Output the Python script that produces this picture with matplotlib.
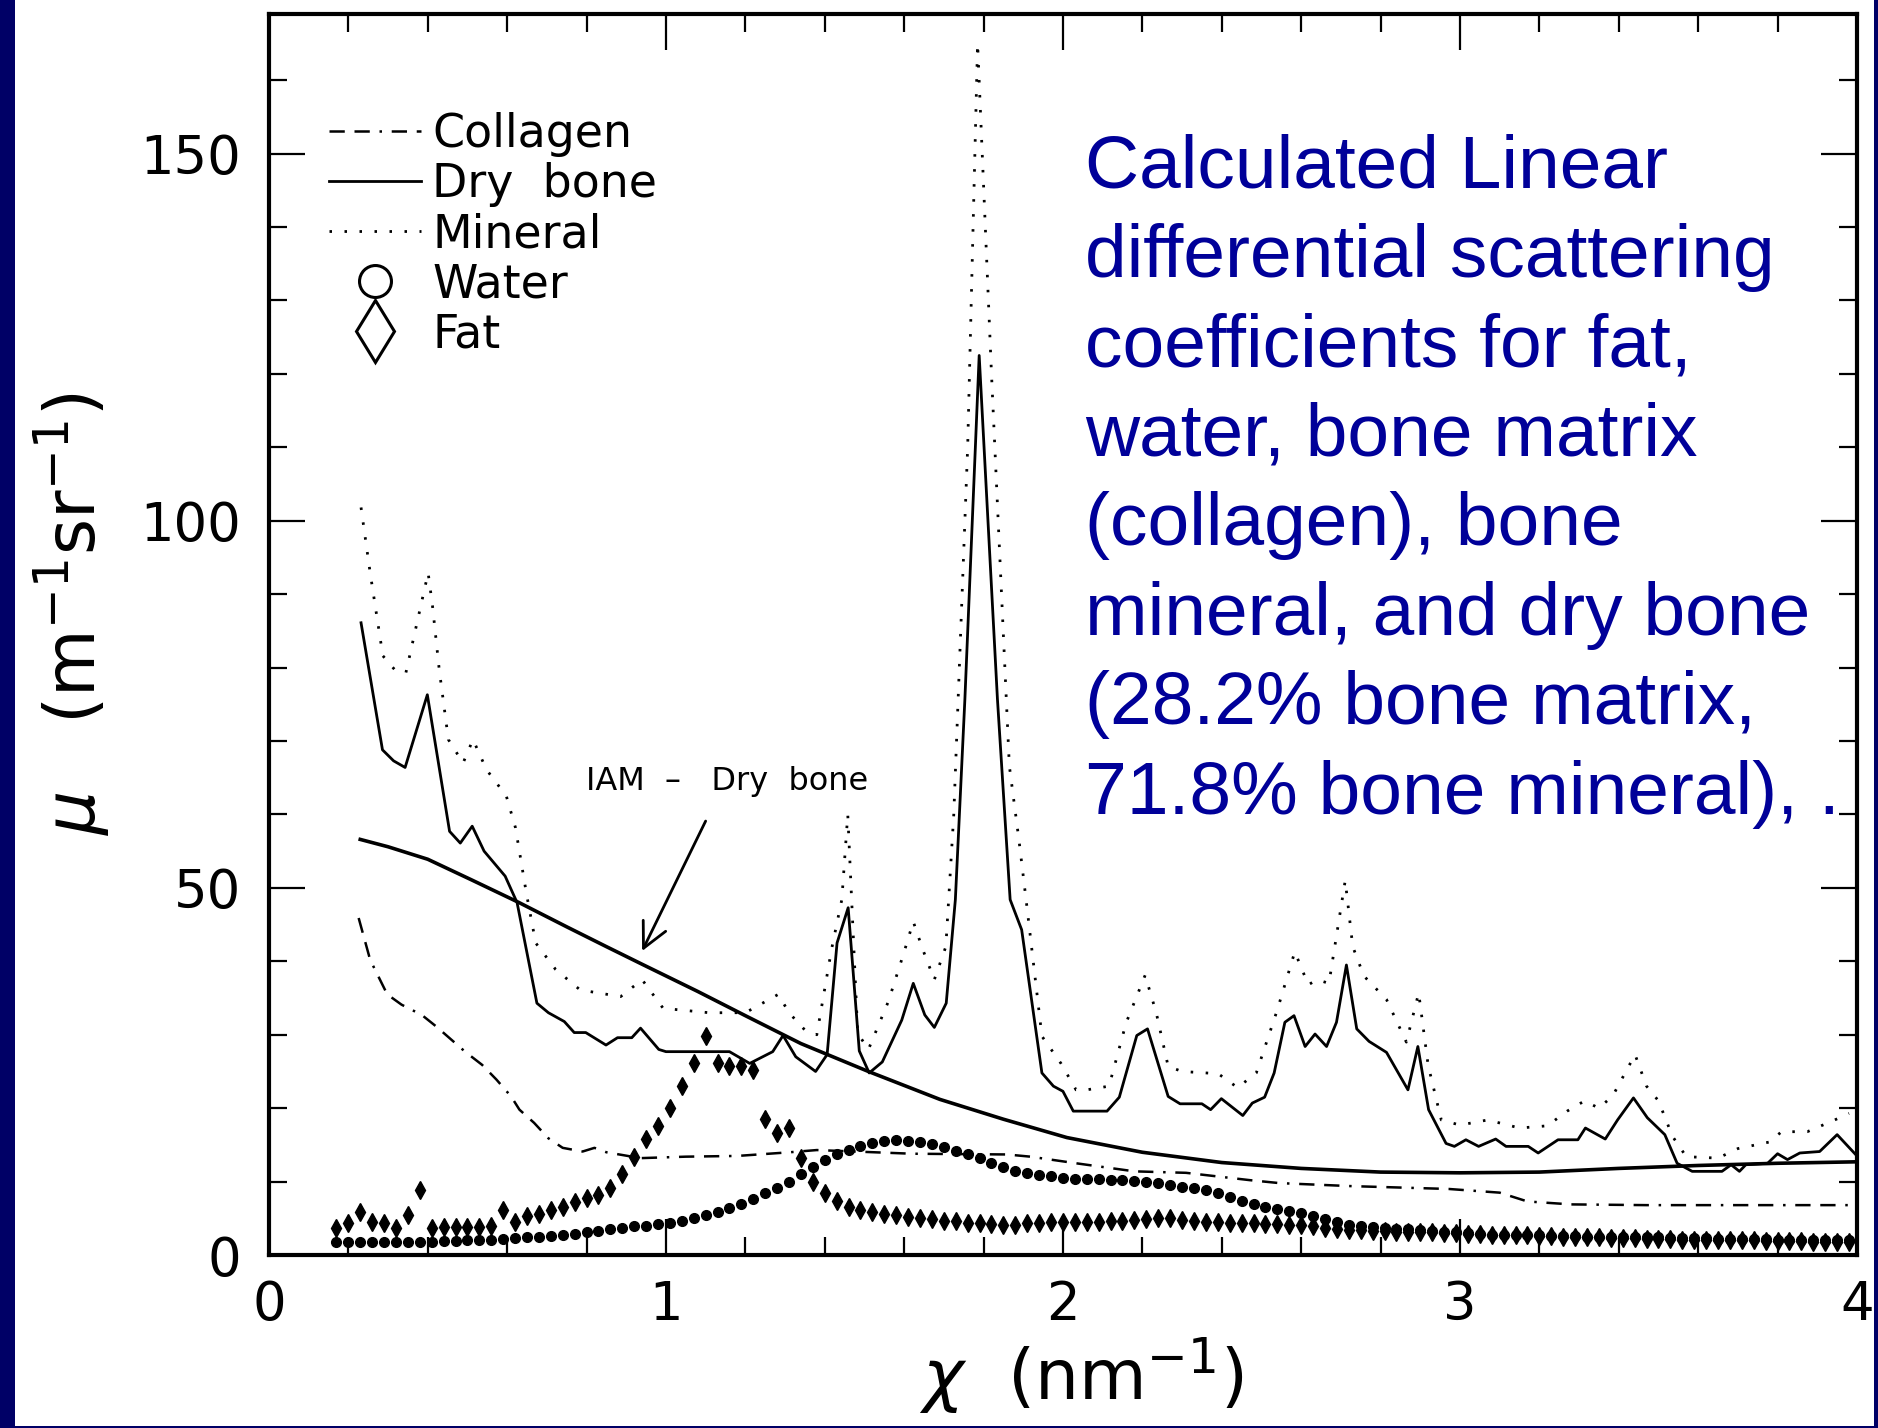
import matplotlib
matplotlib.use('Agg')
import matplotlib.pyplot as plt
from matplotlib.lines import Line2D
from matplotlib.patches import Rectangle
from matplotlib.ticker import MultipleLocator

plt.rcParams['font.family'] = 'DejaVu Sans'
plt.rcParams['mathtext.fontset'] = 'dejavusans'
plt.rcParams['lines.scale_dashes'] = False

# dry bone (solid)
bone_x = [0.232, 0.286, 0.314, 0.343, 0.399, 0.455, 0.482, 0.512, 0.542, 0.595,
          0.625, 0.675, 0.704, 0.744, 0.769, 0.798, 0.849, 0.878, 0.914, 0.936,
          0.982, 1.000, 1.160, 1.211, 1.269, 1.295, 1.327, 1.377, 1.406, 1.431,
          1.459, 1.487, 1.512, 1.545, 1.594, 1.623, 1.652, 1.676, 1.706, 1.729,
          1.753, 1.789, 1.835, 1.867, 1.896, 1.947, 1.976, 2.000, 2.026, 2.111,
          2.142, 2.186, 2.213, 2.265, 2.295, 2.350, 2.372, 2.399, 2.453, 2.477,
          2.508, 2.532, 2.559, 2.582, 2.610, 2.635, 2.664, 2.689, 2.714, 2.740,
          2.771, 2.815, 2.869, 2.894, 2.921, 2.965, 2.986, 3.015, 3.047, 3.090,
          3.116, 3.172, 3.197, 3.247, 3.297, 3.316, 3.366, 3.397, 3.437, 3.472,
          3.516, 3.547, 3.585, 3.660, 3.683, 3.704, 3.720, 3.775, 3.800, 3.825,
          3.856, 3.906, 3.950, 3.981, 4.000]
bone_y = [86.1, 68.8, 67.3, 66.4, 76.3, 57.7, 56.1, 58.4, 55.0, 51.6,
          48.0, 34.3, 33.0, 31.8, 30.3, 30.3, 28.6, 29.6, 29.6, 30.9,
          28.0, 27.7, 27.7, 26.1, 27.7, 29.9, 27.0, 25.0, 27.3, 42.5,
          47.3, 27.8, 24.8, 26.3, 32.0, 37.0, 32.7, 31.0, 34.3, 48.4,
          75.7, 122.5, 75.7, 48.4, 44.3, 24.8, 23.0, 22.3, 19.6, 19.6,
          21.5, 29.9, 30.8, 21.6, 20.6, 20.6, 19.8, 21.3, 19.0, 20.7,
          21.5, 24.8, 31.7, 32.6, 28.4, 30.1, 28.4, 31.7, 39.5, 30.8,
          29.1, 27.6, 22.5, 28.4, 19.8, 15.2, 14.8, 15.7, 14.8, 15.8,
          14.8, 14.8, 13.9, 15.7, 15.7, 17.3, 15.8, 18.4, 21.4, 18.7,
          16.4, 12.5, 11.4, 11.4, 12.3, 11.4, 12.3, 12.5, 13.8, 13.0,
          13.9, 14.1, 16.4, 14.6, 13.5]

# bone mineral (dotted)
mineral_x = [0.232, 0.255, 0.287, 0.317, 0.345, 0.373, 0.401, 0.412, 0.429, 0.452,
             0.489, 0.514, 0.548, 0.598, 0.621, 0.649, 0.672, 0.722, 0.784, 0.886,
             0.940, 0.993, 1.109, 1.200, 1.283, 1.310, 1.349, 1.380, 1.417, 1.443,
             1.458, 1.483, 1.510, 1.560, 1.599, 1.623, 1.647, 1.676, 1.705, 1.725,
             1.760, 1.785, 1.820, 1.865, 1.889, 1.908, 1.947, 1.995, 2.033, 2.060,
             2.116, 2.159, 2.207, 2.235, 2.265, 2.300, 2.391, 2.440, 2.487, 2.540,
             2.584, 2.618, 2.640, 2.670, 2.711, 2.730, 2.758, 2.815, 2.865, 2.896,
             2.920, 2.953, 3.000, 3.070, 3.150, 3.220, 3.270, 3.314, 3.350, 3.385,
             3.441, 3.470, 3.500, 3.535, 3.570, 3.650, 3.700, 3.780, 3.810, 3.875,
             3.940, 3.980]
mineral_y = [101.8, 92.9, 81.6, 79.7, 79.3, 86.1, 92.9, 88.4, 79.7, 70.2,
             67.0, 70.2, 66.1, 62.5, 58.2, 49.1, 42.5, 38.9, 36.1, 35.2,
             37.5, 33.6, 33.0, 33.0, 35.5, 33.0, 30.7, 30.0, 41.6, 48.4,
             60.0, 30.2, 28.0, 34.5, 41.1, 45.4, 41.6, 37.5, 42.0, 60.0,
             110.0, 165.0, 120.0, 66.6, 56.6, 48.0, 29.8, 26.1, 22.5, 22.5,
             23.0, 31.6, 38.1, 33.0, 25.7, 25.0, 24.7, 22.8, 24.8, 33.4,
             41.3, 36.8, 37.5, 37.0, 51.0, 42.0, 38.0, 34.8, 29.0, 35.7,
             25.8, 18.4, 17.7, 18.4, 17.3, 17.6, 19.6, 21.0, 20.0, 21.7,
             27.3, 23.0, 21.0, 16.2, 13.4, 13.2, 14.5, 15.4, 16.8, 16.8,
             18.3, 19.3]

# collagen (bone matrix)
collagen_x = [0.226, 0.255, 0.298, 0.334, 0.385, 0.422, 0.494, 0.537, 0.573, 0.610,
              0.631, 0.668, 0.704, 0.740, 0.790, 0.820, 0.850, 0.936, 1.050, 1.180,
              1.312, 1.380, 1.620, 1.859, 1.918, 2.033, 2.180, 2.310, 2.471, 2.545,
              2.720, 2.972, 3.100, 3.170, 3.280, 3.470, 3.980]
collagen_y = [45.9, 40.2, 35.5, 34.1, 32.7, 31.1, 27.7, 25.9, 23.9, 21.6,
              19.8, 18.0, 15.9, 14.6, 14.1, 14.6, 14.0, 13.2, 13.4, 13.5,
              14.0, 14.3, 13.8, 13.7, 13.4, 12.5, 11.4, 11.2, 10.2, 9.8,
              9.4, 9.0, 8.5, 7.3, 6.9, 6.8, 6.8]

# independent atom model, dry bone
iam_x = [0.23, 0.30, 0.40, 0.51, 0.63, 0.75, 0.85, 0.94, 1.08, 1.20,
         1.34, 1.51, 1.69, 1.85, 2.01, 2.20, 2.40, 2.60, 2.80, 3.00,
         3.20, 3.40, 3.60, 3.80, 4.00]
iam_y = [56.6, 55.6, 53.9, 51.1, 48.0, 44.7, 42.0, 39.6, 35.9, 32.6,
         28.8, 25.0, 21.2, 18.5, 16.0, 14.0, 12.6, 11.8, 11.3, 11.2,
         11.3, 11.8, 12.2, 12.5, 12.7]

# water and fat sampled on the same chi grid
chi_pts = [0.17, 0.20, 0.23, 0.26, 0.29, 0.32, 0.35, 0.38, 0.41, 0.44,
           0.47, 0.50, 0.53, 0.56, 0.59, 0.62, 0.65, 0.68, 0.71, 0.74,
           0.77, 0.80, 0.83, 0.86, 0.89, 0.92, 0.95, 0.98, 1.01, 1.04,
           1.07, 1.10, 1.13, 1.16, 1.19, 1.22, 1.25, 1.28, 1.31, 1.34,
           1.37, 1.40, 1.43, 1.46, 1.49, 1.52, 1.55, 1.58, 1.61, 1.64,
           1.67, 1.70, 1.73, 1.76, 1.79, 1.82, 1.85, 1.88, 1.91, 1.94,
           1.97, 2.00, 2.03, 2.06, 2.09, 2.12, 2.15, 2.18, 2.21, 2.24,
           2.27, 2.30, 2.33, 2.36, 2.39, 2.42, 2.45, 2.48, 2.51, 2.54,
           2.57, 2.60, 2.63, 2.66, 2.69, 2.72, 2.75, 2.78, 2.81, 2.84,
           2.87, 2.90, 2.93, 2.96, 2.99, 3.02, 3.05, 3.08, 3.11, 3.14,
           3.17, 3.20, 3.23, 3.26, 3.29, 3.32, 3.35, 3.38, 3.41, 3.44,
           3.47, 3.50, 3.53, 3.56, 3.59, 3.62, 3.65, 3.68, 3.71, 3.74,
           3.77, 3.80, 3.83, 3.86, 3.89, 3.92, 3.95, 3.98]
water_y = [1.8, 1.8, 1.8, 1.8, 1.8, 1.8, 1.8, 1.8, 1.8, 1.9,
           1.9, 2.0, 2.0, 2.1, 2.2, 2.3, 2.4, 2.5, 2.6, 2.8,
           2.9, 3.1, 3.3, 3.5, 3.7, 3.9, 4.0, 4.2, 4.4, 4.7,
           5.0, 5.4, 5.9, 6.4, 7.0, 7.7, 8.4, 9.2, 10.0, 11.0,
           12.0, 12.9, 13.7, 14.3, 14.8, 15.2, 15.5, 15.7, 15.6, 15.4,
           15.1, 14.7, 14.2, 13.7, 13.2, 12.6, 12.0, 11.5, 11.2, 10.9,
           10.7, 10.5, 10.4, 10.3, 10.3, 10.2, 10.2, 10.1, 10.0, 9.8,
           9.5, 9.3, 9.1, 8.8, 8.4, 7.9, 7.4, 7.0, 6.6, 6.3,
           6.0, 5.7, 5.3, 4.9, 4.5, 4.1, 3.9, 3.8, 3.7, 3.6,
           3.5, 3.4, 3.3, 3.2, 3.1, 3.0, 2.9, 2.8, 2.8, 2.7,
           2.7, 2.7, 2.6, 2.6, 2.6, 2.5, 2.5, 2.5, 2.4, 2.4,
           2.4, 2.4, 2.3, 2.3, 2.3, 2.3, 2.2, 2.2, 2.2, 2.2,
           2.2, 2.1, 2.1, 2.1, 2.1, 2.1, 2.1, 2.1]
fat_y = [3.7, 4.3, 5.9, 4.5, 4.3, 3.7, 5.4, 8.9, 3.7, 3.8,
         3.8, 3.8, 3.8, 3.9, 6.2, 4.5, 5.3, 5.6, 6.1, 6.6,
         7.2, 7.8, 8.2, 9.2, 11.0, 13.4, 15.8, 17.6, 20.0, 23.0,
         26.2, 29.8, 26.2, 25.7, 25.7, 25.2, 18.5, 16.6, 17.3, 13.2,
         10.0, 8.4, 7.4, 6.6, 6.1, 5.8, 5.6, 5.4, 5.2, 5.0,
         4.9, 4.7, 4.6, 4.4, 4.3, 4.2, 4.1, 4.1, 4.3, 4.4,
         4.5, 4.5, 4.5, 4.5, 4.5, 4.6, 4.7, 4.8, 4.9, 5.0,
         5.0, 4.8, 4.6, 4.5, 4.5, 4.4, 4.3, 4.3, 4.2, 4.2,
         4.1, 4.1, 3.9, 3.7, 3.5, 3.4, 3.4, 3.3, 3.3, 3.2,
         3.2, 3.1, 3.1, 3.0, 3.0, 2.9, 2.9, 2.8, 2.8, 2.7,
         2.7, 2.6, 2.6, 2.5, 2.5, 2.4, 2.4, 2.3, 2.3, 2.3,
         2.2, 2.2, 2.2, 2.1, 2.1, 2.1, 2.0, 2.0, 2.0, 2.0,
         1.9, 1.9, 1.9, 1.9, 1.8, 1.8, 1.8, 1.8]

caption_lines = ["Calculated Linear",
                 "differential scattering",
                 "coefficients for fat,",
                 "water, bone matrix",
                 "(collagen), bone",
                 "mineral, and dry bone",
                 "(28.2% bone matrix,",
                 "71.8% bone mineral), ."]

navy = '#000066'
blue = '#000099'
collagen_dash = (0, (11, 7, 11, 7, 1.8, 7))
dot_style = (0, (1.8, 9))

fig = plt.figure(figsize=(18.78, 14.28), dpi=100)
fig.patch.set_facecolor('white')
ax = fig.add_axes([0.1432, 0.1211, 0.8456, 0.8691])

ax.plot(collagen_x, collagen_y, color='black', lw=1.8, ls=collagen_dash)
ax.plot(mineral_x, mineral_y, color='black', lw=2.0, ls=dot_style)
ax.plot(bone_x, bone_y, color='black', lw=2.0)
ax.plot(iam_x, iam_y, color='black', lw=2.6)
ax.plot(chi_pts, water_y, ls='none', marker='o', ms=7, color='black')
ax.plot(chi_pts, fat_y, ls='none', marker='d', ms=9, color='black')

ax.annotate('', xy=(0.94, 41.4), xytext=(1.10, 59.1),
            arrowprops=dict(arrowstyle='->', lw=2, color='black',
                            mutation_scale=45, shrinkA=0, shrinkB=0))
ax.text(1.154, 64.5, 'IAM  \u2013   Dry  bone', fontsize=23,
        ha='center', va='center')

ax.set_xlim(0, 4)
ax.set_ylim(0, 169)
ax.xaxis.set_major_locator(MultipleLocator(1))
ax.xaxis.set_minor_locator(MultipleLocator(0.2))
ax.yaxis.set_major_locator(MultipleLocator(50))
ax.yaxis.set_minor_locator(MultipleLocator(10))
ax.tick_params(which='both', direction='in', top=True, right=True,
               width=1.6, color='black')
ax.tick_params(which='major', length=26, labelsize=38)
ax.tick_params(which='minor', length=13)
ax.tick_params(axis='y', which='major', pad=20)
ax.tick_params(axis='x', which='major', pad=17)
for s in ax.spines.values():
    s.set_linewidth(3)

handles = [
    Line2D([], [], color='black', lw=1.8, ls=collagen_dash),
    Line2D([], [], color='black', lw=2.0),
    Line2D([], [], color='black', lw=2.0, ls=dot_style),
    Line2D([], [], ls='none', marker='o', ms=23, mfc='none', mec='black', mew=2.2),
    Line2D([], [], ls='none', marker='d', ms=32, mfc='none', mec='black', mew=2.2),
]
ax.legend(handles, ['Collagen', 'Dry  bone', 'Mineral', 'Water', 'Fat'],
          loc='upper left', bbox_to_anchor=(0.038, 0.921), frameon=False,
          fontsize=33, handlelength=2.0, handletextpad=0.25,
          labelspacing=0.11, borderpad=0, borderaxespad=0)

fig.text(0.038, 0.57, r'$\mu$   (m$^{-1}$sr$^{-1}$)', rotation=90,
         fontsize=50, ha='center', va='center')
fig.text(0.5756, 0.02, r'$\chi$  (nm$^{-1}$)', fontsize=50,
         ha='center', va='baseline')

for i, line in enumerate(caption_lines):
    fig.text(1085 / 1878, 0.869 - i * 89.5 / 1428, line, color=blue,
             fontsize=54, family='Liberation Sans', ha='left', va='baseline')

# slide frame around the white panel
for rect in [(0, 0, 15 / 1878, 1), (1874 / 1878, 0, 4 / 1878, 1),
             (0, 0, 1, 2 / 1428)]:
    fig.add_artist(Rectangle(rect[:2], rect[2], rect[3], transform=fig.transFigure,
                             facecolor=navy, edgecolor='none', zorder=10))

fig.savefig('out.png', dpi=100)
